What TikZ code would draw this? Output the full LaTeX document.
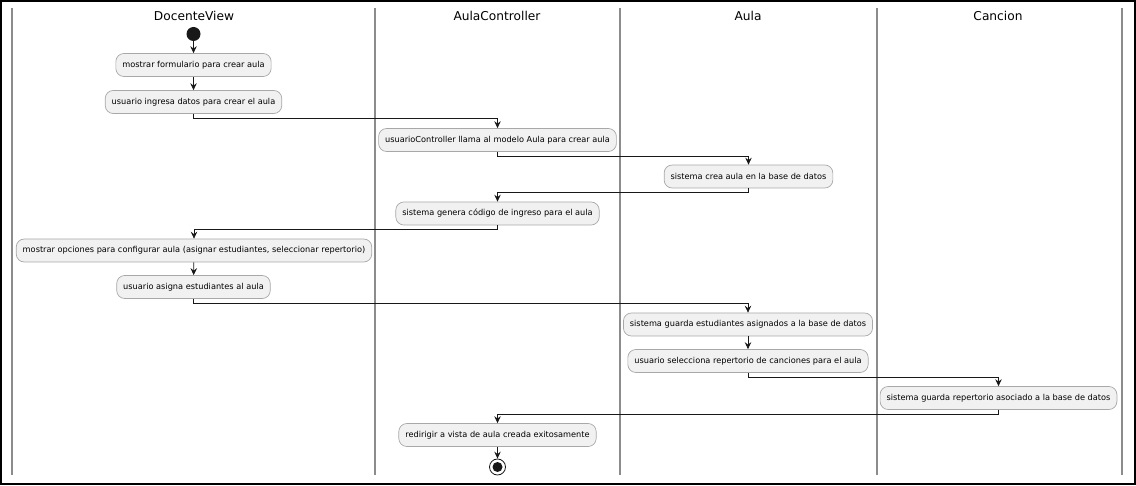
\documentclass[tikz,border=0pt]{standalone}
\usepackage{fontspec}
\setmainfont{DejaVu Sans}
\usetikzlibrary{arrows.meta}
\definecolor{boxfill}{HTML}{F1F1F1}
\definecolor{boxline}{HTML}{A8A8A8}
\definecolor{lane}{HTML}{8C8C8C}
\definecolor{ink}{HTML}{181818}
\tikzset{
  act/.style={draw=boxline, fill=boxfill, rounded corners=8pt, line width=0.7pt,
    minimum height=23pt, inner xsep=6.5pt, inner ysep=0pt,
    font=\fontsize{8.2}{9}\selectfont, text=black},
  lanetitle/.style={font=\fontsize{12.2}{14}\selectfont, text=black, inner sep=0pt},
  flow/.style={draw=ink, line width=0.75pt, -{Stealth[length=7pt,width=6.5pt,inset=2.5pt]}},
  laneline/.style={draw=lane, line width=1.6pt},
}
\begin{document}
\begin{tikzpicture}[x=1pt,y=-1pt]
\path[use as bounding box] (0,0) rectangle (1136,486);
\draw[black, line width=2pt] (1,1) rectangle (1134.5,483.5);
% lanes
\foreach \x in {12,375,620,877,1122} \draw[laneline] (\x,8) -- (\x,475);
\node[lanetitle] (t1) at (194,16) {DocenteView};
\node[lanetitle] (t2) at (497,16) {AulaController};
\node[lanetitle] (t3) at (748,16) {Aula};
\node[lanetitle] (t4) at (998,16) {Cancion};
% nodes
\node[circle, fill=ink, minimum size=14pt, inner sep=0pt] (start) at (193.5,34) {};
\node[act] (n1) at (193.5,65) {mostrar formulario para crear aula};
\node[act] (n2) at (193.5,102) {usuario ingresa datos para crear el aula};
\node[act] (n3) at (497.5,140) {usuarioController llama al modelo Aula para crear aula};
\node[act] (n4) at (748.5,176.5) {sistema crea aula en la base de datos};
\node[act] (n5) at (497.5,213.5) {sistema genera código de ingreso para el aula};
\node[act] (n6) at (194,250.5) {mostrar opciones para configurar aula (asignar estudiantes, seleccionar repertorio)};
\node[act] (n7) at (193.5,287) {usuario asigna estudiantes al aula};
\node[act] (n8) at (748,324.5) {sistema guarda estudiantes asignados a la base de datos};
\node[act] (n9) at (748,361) {usuario selecciona repertorio de canciones para el aula};
\node[act] (n10) at (998.5,398) {sistema guarda repertorio asociado a la base de datos};
\node[act] (n11) at (497.5,435) {redirigir a vista de aula creada exitosamente};
\node[circle, draw=ink, line width=0.8pt, minimum size=16pt, inner sep=0pt] (end) at (497.5,467) {};
\node[circle, fill=ink, minimum size=10pt, inner sep=0pt] (endin) at (end.center) {};
% flows
\draw[flow] (start) -- (n1);
\draw[flow] (n1) -- (n2);
\draw[flow] (n2.south) -- ++(0,5) -| (n3.north);
\draw[flow] (n3.south) -- ++(0,4.5) -| (n4.north);
\draw[flow] (n4.south) -- ++(0,4.5) -| (n5.north);
\draw[flow] (n5.south) -- ++(0,4.5) -| (n6.north);
\draw[flow] (n6) -- (n7);
\draw[flow] (n7.south) -- ++(0,4.5) -| (n8.north);
\draw[flow] (n8) -- (n9);
\draw[flow] (n9.south) -- ++(0,4.5) -| (n10.north);
\draw[flow] (n10.south) -- ++(0,4.5) -| (n11.north);
\draw[flow] (n11) -- (end);
\end{tikzpicture}
\end{document}
